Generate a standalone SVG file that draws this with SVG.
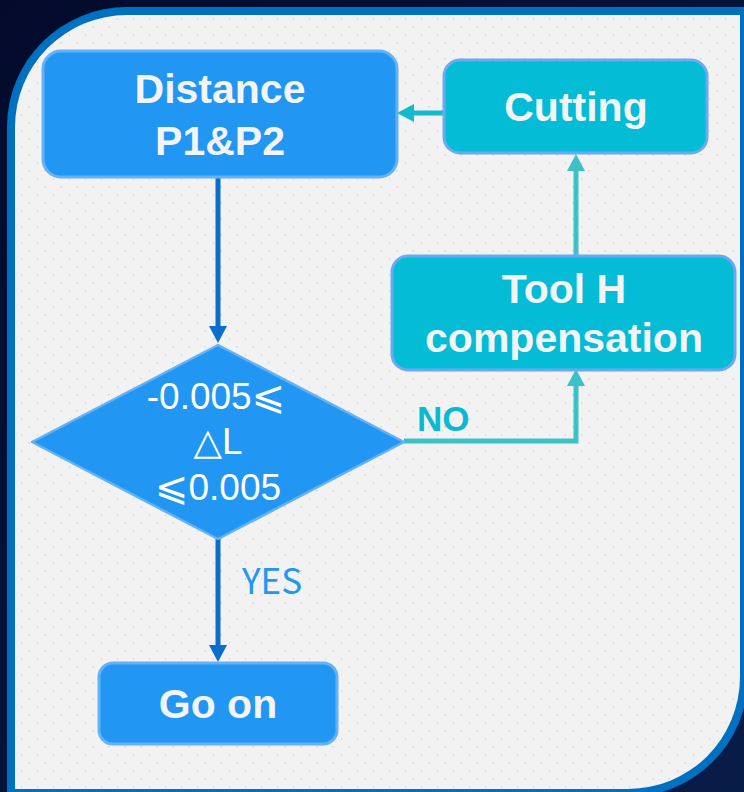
<svg xmlns="http://www.w3.org/2000/svg" width="744" height="792" viewBox="0 0 744 792">
  <defs>
    <linearGradient id="bg" x1="0" y1="0" x2="1" y2="1">
      <stop offset="0" stop-color="#030a2c"/>
      <stop offset="1" stop-color="#081c48"/>
    </linearGradient>
    <pattern id="dots" x="0" y="0" width="16" height="16" patternUnits="userSpaceOnUse">
      <rect x="12" y="10" width="2" height="1.5" fill="#d9d9d9"/>
      <rect x="5" y="2" width="1" height="2" fill="#dcdcdc"/>
    </pattern>
    <marker id="arrBlue" markerUnits="userSpaceOnUse" markerWidth="18" markerHeight="18" refX="0" refY="9" orient="auto" viewBox="0 0 18 18">
      <path d="M0,0 L17,9 L0,18 Z" fill="#0b6dcc"/>
    </marker>
    <marker id="arrTeal" markerUnits="userSpaceOnUse" markerWidth="18" markerHeight="18" refX="0" refY="9" orient="auto" viewBox="0 0 18 18">
      <path d="M0,0 L17,9 L0,18 Z" fill="#3cc1c6"/>
    </marker>
    <marker id="arrCyan" markerUnits="userSpaceOnUse" markerWidth="18" markerHeight="18" refX="0" refY="9" orient="auto" viewBox="0 0 18 18">
      <path d="M0,0 L17,9 L0,18 Z" fill="#14bacb"/>
    </marker>
  </defs>
  <style>
    .blue { fill: #2196f3; stroke: #64b1f4; stroke-width: 3; }
    .cyan { fill: #04bcd6; stroke: #6aaaf0; stroke-width: 3; }
    .ntext { font-family: "Liberation Sans", Arial, sans-serif; font-weight: bold; font-size: 41px; fill: #f4f4f4; text-anchor: middle; }
    .dtext { font-family: "Liberation Sans", "DejaVu Sans", sans-serif; font-size: 37px; fill: #ffffff; text-anchor: middle; }
    .sym { font-family: "DejaVu Sans", sans-serif; font-size: 40px; }
    .conn { fill: none; stroke-width: 5; }
  </style>

  <!-- background frame -->
  <rect x="0" y="0" width="744" height="792" fill="url(#bg)"/>
  <path d="M7,127 A120,120 0 0 1 127,7 H748 V677 A120,120 0 0 1 628,797 H7 Z" fill="#0070c0"/>
  <path d="M15,127 A112,112 0 0 1 127,15 H740 V677 A112,112 0 0 1 628,789 H15 Z" fill="#f2f2f2"/>
  <path d="M15,127 A112,112 0 0 1 127,15 H740 V677 A112,112 0 0 1 628,789 H15 Z" fill="url(#dots)"/>

  <!-- connectors -->
  <g id="connectors">
    <path class="conn" d="M218,178 V326" stroke="#0b6dcc" marker-end="url(#arrBlue)"/>
    <path class="conn" d="M218,539 V645" stroke="#0b6dcc" marker-end="url(#arrBlue)"/>
    <path class="conn" d="M404,441 H576 V386" stroke="#3cc1c6" marker-end="url(#arrTeal)"/>
    <path class="conn" d="M576,256 V171" stroke="#3cc1c6" marker-end="url(#arrTeal)"/>
    <path class="conn" d="M443,113 H414" stroke="#14bacb" marker-end="url(#arrCyan)"/>
    <text x="417" y="431" font-family="Liberation Sans, Arial, sans-serif" font-weight="bold" font-size="35" fill="#0ab8d2">NO</text>
    <text x="242" y="594" font-family="Noto Sans CJK SC, Liberation Sans, sans-serif" font-size="35" fill="#2196f3">YES</text>
  </g>

  <!-- nodes -->
  <g id="distance">
    <rect class="blue" x="43" y="51" width="354" height="126" rx="18"/>
    <text class="ntext" x="220" y="103">Distance</text>
    <text class="ntext" x="220" y="155">P1&amp;P2</text>
  </g>
  <g id="cutting">
    <rect class="cyan" x="444" y="60" width="263" height="93" rx="16"/>
    <text class="ntext" x="576" y="121">Cutting</text>
  </g>
  <g id="toolh">
    <rect class="cyan" x="392" y="256" width="343" height="114" rx="16"/>
    <text class="ntext" x="564" y="303">Tool H</text>
    <text class="ntext" x="564" y="352">compensation</text>
  </g>
  <g id="decision">
    <polygon points="218,345 404,442 218,539 32,442" fill="#2196f3" stroke="#64b1f4" stroke-width="2.5" stroke-linejoin="round"/>
    <text class="dtext" x="216" y="409">-0.005<tspan class="sym">⩽</tspan></text>
    <text class="dtext" x="218" y="454">△L</text>
    <text class="dtext" x="218" y="500"><tspan class="sym">⩽</tspan>0.005</text>
  </g>
  <g id="goon">
    <rect class="blue" x="99" y="663" width="238" height="81" rx="14"/>
    <text class="ntext" x="218" y="718">Go on</text>
  </g>
</svg>
